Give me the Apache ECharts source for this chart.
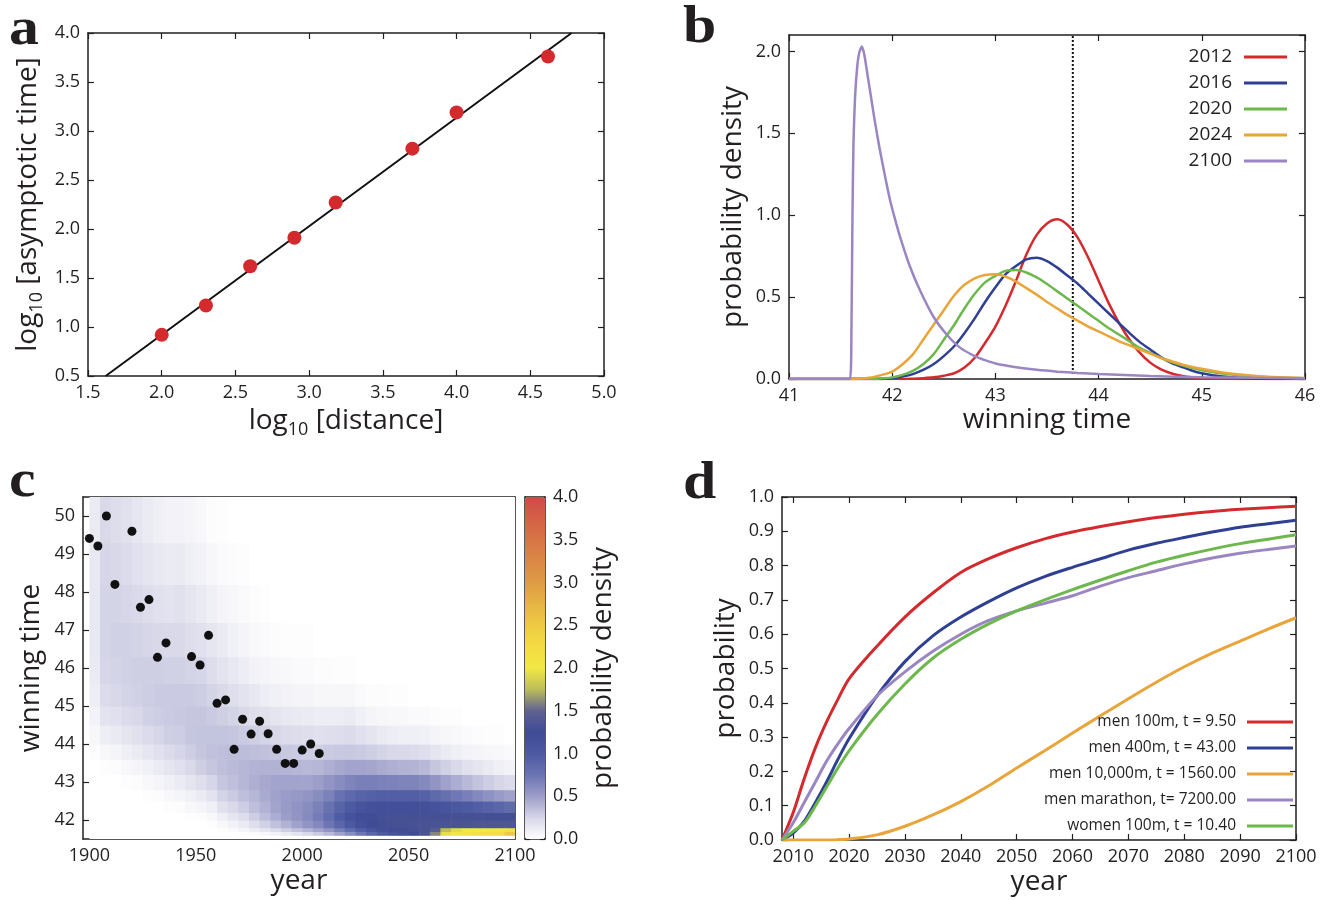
<!DOCTYPE html>
<html>
<head>
<meta charset="utf-8">
<script src="https://cdn.jsdelivr.net/npm/echarts@6/dist/echarts.min.js"></script>
<style>
html, body { margin: 0; background: #fff; }
#main { width: 1331px; height: 900px; }
</style>
</head>
<body>
<div id="main"></div>
<script>
// a: asymptotic time vs distance (log10)
var aDistance = [2.0, 2.3, 2.6, 2.9, 3.18, 3.7, 4.0, 4.62];
var aTime = [0.92, 1.22, 1.62, 1.91, 2.27, 2.82, 3.19, 3.76];
var aFitX = [1.62, 4.78];
var aFitY = [0.5, 4.0];

// b: winning time densities
var bX = [41.0, 41.6, 41.7, 41.8, 41.9, 42.0, 42.1, 42.2, 42.3, 42.4, 42.5, 42.6, 42.7, 42.8, 42.9,
          43.0, 43.1, 43.2, 43.3, 43.4, 43.5, 43.6, 43.7, 43.8, 43.9, 44.0, 44.1, 44.2, 44.3, 44.4,
          44.5, 44.6, 44.7, 44.8, 44.9, 45.0, 45.2, 45.4, 45.6, 45.8, 46.0];
var b2012 = [0, 0, 0, 0, 0, 0, 0, 0.002, 0.005, 0.01, 0.02, 0.035, 0.07, 0.13, 0.22,
             0.32, 0.45, 0.6, 0.76, 0.88, 0.95, 0.975, 0.94, 0.86, 0.74, 0.6, 0.46, 0.34, 0.24, 0.16,
             0.1, 0.06, 0.035, 0.02, 0.01, 0.005, 0.001, 0, 0, 0, 0];
var b2016 = [0, 0, 0, 0, 0, 0.005, 0.015, 0.03, 0.055, 0.09, 0.14, 0.2, 0.28, 0.37, 0.47,
             0.56, 0.64, 0.69, 0.73, 0.74, 0.72, 0.68, 0.63, 0.58, 0.52, 0.46, 0.4, 0.34, 0.28, 0.225,
             0.18, 0.135, 0.1, 0.075, 0.052, 0.035, 0.015, 0.006, 0.002, 0, 0];
var b2020 = [0, 0, 0, 0, 0.004, 0.01, 0.025, 0.05, 0.09, 0.15, 0.24, 0.33, 0.43, 0.52, 0.59,
             0.63, 0.66, 0.665, 0.65, 0.62, 0.58, 0.535, 0.49, 0.445, 0.4, 0.355, 0.31, 0.27, 0.23, 0.19,
             0.16, 0.13, 0.105, 0.085, 0.068, 0.054, 0.033, 0.02, 0.012, 0.007, 0.004];
var b2024 = [0, 0, 0.003, 0.01, 0.025, 0.045, 0.09, 0.15, 0.24, 0.33, 0.42, 0.51, 0.575, 0.615, 0.635,
             0.64, 0.625, 0.595, 0.555, 0.515, 0.47, 0.43, 0.39, 0.355, 0.32, 0.29, 0.26, 0.23, 0.205, 0.18,
             0.155, 0.13, 0.11, 0.09, 0.075, 0.062, 0.04, 0.026, 0.016, 0.01, 0.006];
var b2100X = [41.0, 41.59, 41.605, 41.615, 41.625, 41.64, 41.66, 41.68, 41.705, 41.73, 41.76, 41.79,
              41.83, 41.88, 41.93, 41.98, 42.03, 42.08, 42.17, 42.27, 42.4, 42.53, 42.66, 42.8, 42.9,
              43.0, 43.2, 43.4, 43.6, 43.8, 44.0, 44.5, 45.0, 45.5, 46.0];
var b2100 = [0, 0, 0.3, 1.0, 1.45, 1.72, 1.9, 1.99, 2.03, 1.98, 1.86, 1.74,
             1.58, 1.4, 1.24, 1.09, 0.97, 0.86, 0.69, 0.54, 0.38, 0.27, 0.19, 0.14, 0.115,
             0.095, 0.072, 0.056, 0.045, 0.037, 0.03, 0.018, 0.011, 0.007, 0.004];
var bRecord = 43.75;

// c: density of winning time by year, with Olympic results
var cYearEdges = [1900, 1905, 1910, 1915, 1920, 1925, 1930, 1935, 1940, 1945, 1950, 1955, 1960, 1965,
                  1970, 1975, 1980, 1985, 1990, 1995, 2000, 2005, 2010, 2015, 2020, 2025, 2030, 2035,
                  2040, 2045, 2050, 2055, 2060, 2065, 2070, 2075, 2080, 2085, 2090, 2095, 2100];
var cTimeEdges = [41.5, 41.6, 41.7, 41.8, 42.0, 42.2, 42.5, 42.8, 43.2, 43.6, 44.0,
                  44.5, 45.0, 45.6, 46.3, 47.2, 48.2, 49.3, 50.5];
// one row per 5-year column, values from the lowest time bin upwards
var cDensity = [
  [0, 0, 0, 0, 0, 0, 0, 0, 0, 0.02, 0.05, 0.08, 0.11, 0.13, 0.14, 0.14, 0.14, 0.13],
  [0, 0, 0, 0, 0, 0, 0, 0, 0.01, 0.05, 0.11, 0.17, 0.22, 0.25, 0.26, 0.26, 0.25, 0.23],
  [0, 0, 0, 0, 0, 0, 0, 0, 0.02, 0.07, 0.13, 0.19, 0.24, 0.26, 0.27, 0.26, 0.24, 0.21],
  [0, 0, 0, 0, 0, 0, 0, 0.01, 0.04, 0.1, 0.16, 0.22, 0.26, 0.27, 0.27, 0.25, 0.22, 0.18],
  [0, 0, 0, 0, 0, 0, 0, 0.02, 0.06, 0.12, 0.19, 0.24, 0.27, 0.28, 0.26, 0.23, 0.19, 0.15],
  [0, 0, 0, 0, 0, 0, 0.01, 0.04, 0.09, 0.15, 0.22, 0.27, 0.29, 0.28, 0.25, 0.21, 0.16, 0.12],
  [0, 0, 0, 0, 0, 0, 0.02, 0.06, 0.12, 0.19, 0.25, 0.29, 0.3, 0.28, 0.24, 0.19, 0.14, 0.1],
  [0, 0, 0, 0, 0, 0.01, 0.04, 0.09, 0.16, 0.22, 0.28, 0.3, 0.3, 0.27, 0.23, 0.17, 0.12, 0.08],
  [0, 0, 0, 0, 0, 0.02, 0.06, 0.12, 0.19, 0.25, 0.29, 0.31, 0.3, 0.27, 0.23, 0.18, 0.13, 0.08],
  [0, 0, 0, 0, 0.01, 0.04, 0.09, 0.16, 0.23, 0.29, 0.32, 0.32, 0.3, 0.26, 0.21, 0.15, 0.1, 0.06],
  [0, 0, 0, 0, 0.02, 0.06, 0.12, 0.2, 0.28, 0.32, 0.33, 0.32, 0.29, 0.25, 0.19, 0.13, 0.08, 0.04],
  [0, 0, 0, 0.01, 0.04, 0.1, 0.17, 0.25, 0.32, 0.34, 0.33, 0.3, 0.26, 0.21, 0.15, 0.1, 0.05, 0.02],
  [0, 0, 0.01, 0.04, 0.1, 0.18, 0.26, 0.32, 0.35, 0.35, 0.33, 0.28, 0.23, 0.17, 0.12, 0.07, 0.03, 0.01],
  [0, 0, 0.03, 0.08, 0.15, 0.23, 0.3, 0.35, 0.37, 0.36, 0.32, 0.26, 0.2, 0.14, 0.09, 0.05, 0.02, 0],
  [0, 0.01, 0.06, 0.13, 0.21, 0.29, 0.35, 0.39, 0.39, 0.36, 0.3, 0.23, 0.17, 0.11, 0.06, 0.03, 0.01, 0],
  [0, 0.03, 0.11, 0.2, 0.29, 0.35, 0.39, 0.42, 0.4, 0.35, 0.28, 0.2, 0.14, 0.08, 0.04, 0.02, 0, 0],
  [0, 0.05, 0.16, 0.27, 0.36, 0.41, 0.44, 0.45, 0.41, 0.34, 0.26, 0.18, 0.11, 0.06, 0.03, 0.01, 0, 0],
  [0, 0.08, 0.22, 0.34, 0.43, 0.47, 0.48, 0.47, 0.41, 0.33, 0.24, 0.16, 0.09, 0.05, 0.02, 0, 0, 0],
  [0, 0.12, 0.28, 0.41, 0.5, 0.52, 0.51, 0.47, 0.4, 0.31, 0.22, 0.14, 0.08, 0.04, 0.01, 0, 0, 0],
  [0, 0.17, 0.34, 0.48, 0.55, 0.56, 0.53, 0.47, 0.39, 0.3, 0.21, 0.13, 0.07, 0.03, 0.01, 0, 0, 0],
  [0, 0.23, 0.4, 0.55, 0.61, 0.6, 0.55, 0.47, 0.38, 0.29, 0.2, 0.12, 0.06, 0.03, 0.01, 0, 0, 0],
  [0, 0.3, 0.47, 0.63, 0.7, 0.67, 0.6, 0.5, 0.39, 0.28, 0.19, 0.11, 0.05, 0.02, 0, 0, 0, 0],
  [0, 0.38, 0.56, 0.74, 0.82, 0.77, 0.67, 0.55, 0.42, 0.3, 0.2, 0.11, 0.05, 0.02, 0, 0, 0, 0],
  [0, 0.48, 0.68, 0.88, 0.98, 0.9, 0.77, 0.6, 0.45, 0.31, 0.21, 0.11, 0.05, 0.01, 0, 0, 0, 0],
  [0, 0.6, 0.82, 1.02, 1.12, 1.0, 0.85, 0.65, 0.47, 0.31, 0.22, 0.12, 0.05, 0.01, 0, 0, 0, 0],
  [0, 0.74, 0.96, 1.15, 1.22, 1.1, 0.9, 0.68, 0.47, 0.3, 0.19, 0.09, 0.03, 0, 0, 0, 0, 0],
  [0, 0.88, 1.08, 1.24, 1.27, 1.15, 0.93, 0.68, 0.46, 0.28, 0.16, 0.07, 0.02, 0, 0, 0, 0, 0],
  [0, 1.0, 1.17, 1.28, 1.3, 1.17, 0.95, 0.67, 0.44, 0.26, 0.13, 0.05, 0.02, 0, 0, 0, 0, 0],
  [0, 1.1, 1.23, 1.3, 1.31, 1.18, 0.95, 0.66, 0.42, 0.24, 0.11, 0.04, 0.01, 0, 0, 0, 0, 0],
  [0, 1.18, 1.27, 1.31, 1.31, 1.18, 0.95, 0.65, 0.41, 0.23, 0.1, 0.04, 0.01, 0, 0, 0, 0, 0],
  [0, 1.25, 1.3, 1.32, 1.31, 1.17, 0.95, 0.65, 0.4, 0.22, 0.1, 0.03, 0, 0, 0, 0, 0, 0],
  [0, 1.35, 1.33, 1.33, 1.31, 1.15, 0.92, 0.62, 0.38, 0.2, 0.09, 0.03, 0, 0, 0, 0, 0, 0],
  [0, 1.6, 1.45, 1.34, 1.31, 1.12, 0.85, 0.55, 0.32, 0.16, 0.07, 0.02, 0, 0, 0, 0, 0, 0],
  [0, 1.95, 1.75, 1.34, 1.31, 1.08, 0.78, 0.48, 0.27, 0.12, 0.05, 0.01, 0, 0, 0, 0, 0, 0],
  [0, 2.05, 1.92, 1.35, 1.31, 1.04, 0.73, 0.43, 0.23, 0.1, 0.04, 0.01, 0, 0, 0, 0, 0, 0],
  [0, 2.1, 2.0, 1.35, 1.31, 1.0, 0.68, 0.38, 0.19, 0.08, 0.03, 0, 0, 0, 0, 0, 0, 0],
  [0, 2.15, 2.03, 1.36, 1.31, 0.96, 0.62, 0.33, 0.16, 0.06, 0.02, 0, 0, 0, 0, 0, 0, 0],
  [0, 2.2, 2.05, 1.36, 1.3, 0.92, 0.57, 0.29, 0.13, 0.05, 0.01, 0, 0, 0, 0, 0, 0, 0],
  [0, 2.25, 2.07, 1.37, 1.3, 0.88, 0.52, 0.25, 0.1, 0.04, 0.01, 0, 0, 0, 0, 0, 0, 0],
  [0, 2.5, 2.1, 1.37, 1.3, 0.84, 0.48, 0.22, 0.08, 0.03, 0, 0, 0, 0, 0, 0, 0, 0]
];
var cOlympicYear = [1900, 1904, 1908, 1912, 1920, 1924, 1928, 1932, 1936, 1948, 1952, 1956, 1960,
                    1964, 1968, 1972, 1976, 1980, 1984, 1988, 1992, 1996, 2000, 2004, 2008];
var cWinTime = [49.41, 49.21, 50.0, 48.2, 49.6, 47.6, 47.8, 46.28, 46.66, 46.3, 46.08, 46.86, 45.07,
                45.16, 43.86, 44.65, 44.26, 44.6, 44.27, 43.86, 43.49, 43.49, 43.84, 44.0, 43.75];
var cColorStops = ['#ffffff', '#d6d6e8', '#9c9dc9', '#6b74b2', '#4c5aa2', '#3f4b95', '#5e6290',
                   '#bdbd5a', '#f1e845', '#f3dc44', '#eecb42', '#e6b443', '#de9c44', '#da8844',
                   '#d77545', '#d46046', '#d04a48'];

// d: probability of beating a time, by year
var dYear = [2008, 2010, 2012, 2014, 2016, 2018, 2020, 2025, 2030, 2035, 2040, 2045, 2050, 2055,
             2060, 2065, 2070, 2075, 2080, 2085, 2090, 2095, 2100];
var dTicks = [2010, 2020, 2030, 2040, 2050, 2060, 2070, 2080, 2090, 2100];
var dMen100 = [0, 0.08, 0.18, 0.27, 0.345, 0.41, 0.47, 0.565, 0.65, 0.72, 0.78, 0.82, 0.852, 0.878,
               0.898, 0.914, 0.928, 0.94, 0.95, 0.958, 0.964, 0.969, 0.973];
var dMen400 = [0, 0.02, 0.055, 0.11, 0.17, 0.235, 0.295, 0.42, 0.52, 0.595, 0.65, 0.695, 0.735, 0.768,
               0.795, 0.82, 0.845, 0.865, 0.882, 0.898, 0.912, 0.922, 0.932];
var dMen10000 = [0, 0, 0, 0, 0, 0.001, 0.003, 0.015, 0.04, 0.073, 0.112, 0.158, 0.21, 0.26,
                 0.312, 0.362, 0.412, 0.46, 0.505, 0.545, 0.58, 0.615, 0.648];
var dMarathon = [0, 0.05, 0.11, 0.17, 0.23, 0.28, 0.325, 0.42, 0.49, 0.55, 0.6, 0.64, 0.668, 0.69,
                 0.712, 0.74, 0.765, 0.785, 0.805, 0.822, 0.836, 0.847, 0.857];
var dWomen100 = [0, 0.025, 0.05, 0.1, 0.155, 0.21, 0.26, 0.365, 0.455, 0.53, 0.585, 0.63, 0.668, 0.7,
                 0.73, 0.758, 0.785, 0.81, 0.83, 0.848, 0.864, 0.877, 0.89];

var RED = '#d42a2e', BLUE = '#2f3f94', GREEN = '#6cb84c', ORANGE = '#e9a43a', PURPLE = '#9a86c2';
var INK = '#231f20';
var FONT = 'Open Sans';
var LETTER = 'bold 52px "Liberation Serif"';

function zip(xs, ys) {
    var out = [];
    for (var i = 0; i < xs.length; i++) out.push([xs[i], ys[i]]);
    return out;
}
function fixed1(v) { return v.toFixed(1); }
function plain(v) { return String(v); }

// every frame side is an axis, so ticks point inward on all four sides
function axis(o) {
    var base = {
        type: 'value',
        axisLine: { show: true, onZero: false, lineStyle: { color: INK, width: 1.5 } },
        axisTick: { show: true, inside: true, length: 6, lineStyle: { color: INK, width: 1.2 } },
        axisLabel: { show: true, color: INK, fontFamily: FONT, fontSize: 18, margin: 8 },
        splitLine: { show: false },
        nameTextStyle: { color: INK, fontFamily: FONT, fontSize: 28 },
        nameLocation: 'middle'
    };
    for (var k in o) {
        if (typeof o[k] === 'object' && base[k] && !Array.isArray(o[k])) {
            base[k] = Object.assign({}, base[k], o[k]);
        } else {
            base[k] = o[k];
        }
    }
    return base;
}
var noLabel = { show: false };
var subRich = {
    sub: { fontFamily: FONT, fontSize: 18, color: INK, verticalAlign: 'bottom', lineHeight: 20 }
};

var cells = [];
for (var i = 0; i < cDensity.length; i++) {
    for (var j = 0; j < cDensity[i].length; j++) {
        cells.push([cYearEdges[i], cYearEdges[i + 1], cTimeEdges[j], cTimeEdges[j + 1], cDensity[i][j]]);
    }
}

var chart = echarts.init(document.getElementById('main'), null, { renderer: 'canvas' });

chart.setOption({
    animation: false,
    backgroundColor: '#fff',
    grid: [
        { left: 88, top: 33, width: 516, height: 343 },   // a
        { left: 789, top: 35, width: 516, height: 344 },  // b
        { left: 83, top: 497, width: 432, height: 342 },  // c
        { left: 525, top: 497, width: 20, height: 342 },  // c colour bar
        { left: 782, top: 497, width: 514, height: 343 }  // d
    ],
    xAxis: [
        axis({ gridIndex: 0, min: 1.5, max: 5.0, interval: 0.5, axisLabel: { formatter: fixed1 },
               name: 'log{sub|10} [distance]', nameGap: 20,
               nameTextStyle: { lineHeight: 36, rich: subRich } }),
        axis({ gridIndex: 0, position: 'top', min: 1.5, max: 5.0, interval: 0.5, axisLabel: noLabel }),
        axis({ gridIndex: 1, min: 41, max: 46, interval: 1, name: 'winning time', nameGap: 26 }),
        axis({ gridIndex: 1, position: 'top', min: 41, max: 46, interval: 1, axisLabel: noLabel }),
        axis({ gridIndex: 2, min: 1897, max: 2100, name: 'year', nameGap: 28,
               axisTick: { show: false },
               axisLabel: { formatter: plain, customValues: [1900, 1950, 2000, 2050, 2100] } }),
        axis({ gridIndex: 2, position: 'top', min: 1897, max: 2100, axisTick: { show: false }, axisLabel: noLabel }),
        axis({ gridIndex: 3, min: 0, max: 1, axisTick: { show: false }, axisLabel: noLabel }),
        axis({ gridIndex: 3, position: 'top', min: 0, max: 1, axisTick: { show: false }, axisLabel: noLabel }),
        axis({ gridIndex: 4, min: 2008, max: 2100, name: 'year', nameGap: 28,
               axisTick: { customValues: dTicks },
               axisLabel: { formatter: plain, customValues: dTicks } }),
        axis({ gridIndex: 4, position: 'top', min: 2008, max: 2100, axisLabel: noLabel,
               axisTick: { customValues: dTicks } })
    ],
    yAxis: [
        axis({ gridIndex: 0, min: 0.5, max: 4.0, interval: 0.5, axisLabel: { formatter: fixed1 },
               name: 'log{sub|10} [asymptotic time]', nameGap: 42, nameRotate: 90,
               nameTextStyle: { lineHeight: 36, rich: subRich } }),
        axis({ gridIndex: 0, position: 'right', min: 0.5, max: 4.0, interval: 0.5, axisLabel: noLabel }),
        axis({ gridIndex: 1, min: 0, max: 2.1, interval: 0.5, axisLabel: { formatter: fixed1 },
               name: 'probability density', nameGap: 42, nameRotate: 90 }),
        axis({ gridIndex: 1, position: 'right', min: 0, max: 2.1, interval: 0.5, axisLabel: noLabel }),
        axis({ gridIndex: 2, min: 41.5, max: 50.5,
               axisTick: { customValues: [42, 43, 44, 45, 46, 47, 48, 49, 50] },
               axisLabel: { customValues: [42, 43, 44, 45, 46, 47, 48, 49, 50] },
               name: 'winning time', nameGap: 38, nameRotate: 90 }),
        axis({ gridIndex: 2, position: 'right', min: 41.5, max: 50.5, axisTick: { show: false }, axisLabel: noLabel }),
        axis({ gridIndex: 3, min: 0, max: 4, interval: 0.5, axisLabel: noLabel, axisTick: { length: 5 } }),
        axis({ gridIndex: 3, position: 'right', min: 0, max: 4, interval: 0.5, axisTick: { length: 5 },
               axisLabel: { formatter: fixed1 },
               name: 'probability density', nameGap: 44, nameRotate: 90 }),
        axis({ gridIndex: 4, min: 0, max: 1, interval: 0.1, axisLabel: { formatter: fixed1 },
               name: 'probability', nameGap: 42, nameRotate: 90 }),
        axis({ gridIndex: 4, position: 'right', min: 0, max: 1, interval: 0.1, axisLabel: noLabel })
    ],
    visualMap: {
        type: 'continuous',
        seriesIndex: 8,
        dimension: 4,
        min: 0,
        max: 4,
        calculable: false,
        orient: 'vertical',
        left: 525,
        top: 497,
        padding: 0,
        itemWidth: 20,
        itemHeight: 342,
        inRange: { color: cColorStops }
    },
    legend: [
        {
            data: ['2012', '2016', '2020', '2024', '2100'],
            orient: 'vertical', right: 44, top: 47, align: 'right', padding: 0,
            icon: 'rect', itemWidth: 43, itemHeight: 3, itemGap: 6,
            textStyle: { color: INK, fontFamily: FONT, fontSize: 19, lineHeight: 20, padding: [0, 7, 0, 0] }
        },
        {
            data: ['men 100m, t = 9.50', 'men 400m, t = 43.00', 'men 10,000m, t = 1560.00',
                   'men marathon, t= 7200.00', 'women 100m, t = 10.40'],
            orient: 'vertical', right: 38, top: 713, align: 'right', padding: 0,
            icon: 'rect', itemWidth: 46, itemHeight: 3, itemGap: 8,
            textStyle: { color: INK, fontFamily: FONT, fontSize: 15.5, lineHeight: 18, padding: [0, 6, 0, 0] }
        }
    ],
    graphic: [
        { type: 'text', x: 9, y: 5, scaleX: 1.15, style: { text: 'a', font: LETTER, fill: INK } },
        { type: 'text', x: 683, y: 3, scaleX: 1.15, style: { text: 'b', font: LETTER, fill: INK } },
        { type: 'text', x: 9, y: 457, scaleX: 1.15, style: { text: 'c', font: LETTER, fill: INK } },
        { type: 'text', x: 683, y: 459, scaleX: 1.15, style: { text: 'd', font: LETTER, fill: INK } }
    ],
    series: [
        // a
        { type: 'line', xAxisIndex: 0, yAxisIndex: 0, data: zip(aFitX, aFitY), showSymbol: false,
          lineStyle: { color: '#111', width: 2 }, z: 2 },
        { type: 'scatter', xAxisIndex: 0, yAxisIndex: 0, data: zip(aDistance, aTime), symbolSize: 14,
          itemStyle: { color: RED, opacity: 1 }, z: 3 },
        // b
        { name: '2012', type: 'line', xAxisIndex: 2, yAxisIndex: 2, data: zip(bX, b2012), showSymbol: false,
          smooth: 0.3, color: RED, lineStyle: { width: 2.5 } },
        { name: '2016', type: 'line', xAxisIndex: 2, yAxisIndex: 2, data: zip(bX, b2016), showSymbol: false,
          smooth: 0.3, color: BLUE, lineStyle: { width: 2.5 } },
        { name: '2020', type: 'line', xAxisIndex: 2, yAxisIndex: 2, data: zip(bX, b2020), showSymbol: false,
          smooth: 0.3, color: GREEN, lineStyle: { width: 2.5 } },
        { name: '2024', type: 'line', xAxisIndex: 2, yAxisIndex: 2, data: zip(bX, b2024), showSymbol: false,
          smooth: 0.3, color: ORANGE, lineStyle: { width: 2.5 } },
        { name: '2100', type: 'line', xAxisIndex: 2, yAxisIndex: 2, data: zip(b2100X, b2100), showSymbol: false,
          smooth: 0.2, color: PURPLE, lineStyle: { width: 2.5 } },
        { type: 'line', xAxisIndex: 2, yAxisIndex: 2, data: [[bRecord, 0.03], [bRecord, 2.1]], showSymbol: false,
          lineStyle: { color: '#111', width: 2, type: [2, 2] }, z: 1 },
        // c
        {
            type: 'custom', xAxisIndex: 4, yAxisIndex: 4, data: cells, clip: true, silent: true,
            encode: { x: [0, 1], y: [2, 3] },
            renderItem: function (params, api) {
                var p0 = api.coord([api.value(0), api.value(3)]);
                var p1 = api.coord([api.value(1), api.value(2)]);
                return {
                    type: 'rect',
                    shape: { x: p0[0], y: p0[1], width: p1[0] - p0[0] + 0.6, height: p1[1] - p0[1] + 0.6 },
                    style: { fill: api.visual('color') }
                };
            },
            z: 1
        },
        { type: 'scatter', xAxisIndex: 4, yAxisIndex: 4, data: zip(cOlympicYear, cWinTime), symbolSize: 9,
          itemStyle: { color: '#111', opacity: 1 }, z: 3 },
        // d
        { name: 'men 100m, t = 9.50', type: 'line', xAxisIndex: 8, yAxisIndex: 8, data: zip(dYear, dMen100),
          showSymbol: false, smooth: 0.3, color: RED, lineStyle: { width: 3 } },
        { name: 'men 400m, t = 43.00', type: 'line', xAxisIndex: 8, yAxisIndex: 8, data: zip(dYear, dMen400),
          showSymbol: false, smooth: 0.3, color: BLUE, lineStyle: { width: 3 } },
        { name: 'men 10,000m, t = 1560.00', type: 'line', xAxisIndex: 8, yAxisIndex: 8, data: zip(dYear, dMen10000),
          showSymbol: false, smooth: 0.3, color: ORANGE, lineStyle: { width: 3 } },
        { name: 'men marathon, t= 7200.00', type: 'line', xAxisIndex: 8, yAxisIndex: 8, data: zip(dYear, dMarathon),
          showSymbol: false, smooth: 0.3, color: PURPLE, lineStyle: { width: 3 } },
        { name: 'women 100m, t = 10.40', type: 'line', xAxisIndex: 8, yAxisIndex: 8, data: zip(dYear, dWomen100),
          showSymbol: false, smooth: 0.3, color: GREEN, lineStyle: { width: 3 } }
    ]
});
</script>
</body>
</html>
